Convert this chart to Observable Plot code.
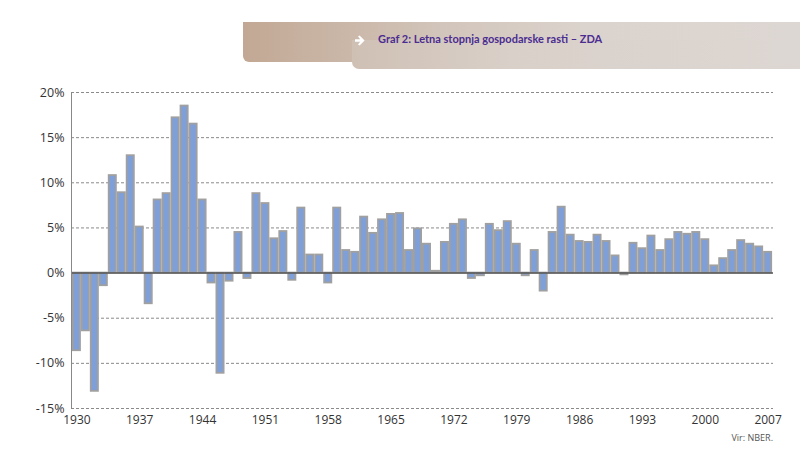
<!DOCTYPE html>
<html>
<head>
<meta charset="utf-8">
<script src="https://cdn.jsdelivr.net/npm/d3@7"></script>
<script src="https://cdn.jsdelivr.net/npm/@observablehq/plot@0.6"></script>
<style>
  html, body { margin: 0; padding: 0; background: #fff; }
  #wrap { position: relative; width: 800px; height: 456px; overflow: hidden; font-family: "Open Sans", sans-serif; }
  #chart { position: absolute; left: 0; top: 0; }
  .band1 { position: absolute; left: 243px; top: 22px; width: 570px; height: 40px; border-radius: 0 0 0 6px;
           background: linear-gradient(to right, #c2a894 0%, #d2c5bb 35%, #dbd3cd 60%, #ddd7d3 100%); }
  .band2 { position: absolute; left: 352px; top: 40px; width: 460px; height: 29px; border-radius: 0 0 0 7px;
           background: linear-gradient(to right, #cfc0b4 0%, #d9d0c9 35%, #ddd7d3 100%); }
  .arrow { position: absolute; left: 354px; top: 35px; }
  .title { position: absolute; left: 378px; top: 32px; color: #4b2c91; font-size: 11px; font-weight: 700; font-family: Lato, sans-serif; white-space: nowrap; }
  .source { position: absolute; right: 27px; top: 431px; color: #555; font-size: 9px; }
</style>
</head>
<body>
<div id="wrap">
  <div class="band1"></div>
  <div class="band2"></div>
  <svg class="arrow" width="12" height="11" viewBox="0 0 12 11">
    <path d="M1 4.2 H6.2 L4 1.6 L5.6 0.4 L10.6 5.5 L5.6 10.6 L4 9.4 L6.2 6.8 H1 Z" fill="#fff"/>
  </svg>
  <div class="title">Graf 2: Letna stopnja gospodarske rasti – ZDA</div>
  <div id="chart"></div>
  <div class="source">Vir: NBER.</div>
</div>
<script>
const years = d3.range(1930, 2008);
const growth = [
  -8.6, -6.4, -13.1, -1.4, 10.8, 8.9, 13.0, 5.1, -3.4, 8.1,
  8.8, 17.2, 18.5, 16.5, 8.1, -1.1, -11.1, -0.9, 4.5, -0.6,
  8.8, 7.7, 3.8, 4.6, -0.8, 7.2, 2.0, 2.0, -1.1, 7.2,
  2.5, 2.3, 6.2, 4.4, 5.9, 6.5, 6.6, 2.5, 4.9, 3.2,
  0.2, 3.4, 5.4, 5.9, -0.6, -0.3, 5.4, 4.7, 5.7, 3.2,
  -0.3, 2.5, -2.0, 4.5, 7.3, 4.2, 3.5, 3.4, 4.2, 3.5,
  1.9, -0.2, 3.3, 2.7, 4.1, 2.5, 3.7, 4.5, 4.3, 4.5,
  3.7, 0.8, 1.6, 2.5, 3.6, 3.2, 2.9, 2.3
];
const xTickLabels = [1930, 1937, 1944, 1951, 1958, 1965, 1972, 1979, 1986, 1993, 2000, 2007];
const yTicks = [-15, -10, -5, 0, 5, 10, 15, 20];

const data = years.map((year, i) => ({year, value: growth[i]}));

const chart = Plot.plot({
  width: 800,
  height: 456,
  marginTop: 92,
  marginBottom: 48,
  marginLeft: 71,
  marginRight: 27,
  style: { fontFamily: "Open Sans, sans-serif", background: "transparent", color: "#333" },
  x: { type: "band", domain: years, padding: 0.2, align: 0.5 },
  y: { domain: [-15, 20] },
  marks: [
    Plot.gridY(yTicks.filter(d => d !== 0), { stroke: "#8a8a8a", strokeOpacity: 1, strokeDasharray: "3,2", strokeWidth: 1 }),
    Plot.barY(data, { x: "year", y: "value", fill: "#7f9fd9", stroke: "#a0a0a0", strokeWidth: 1.8 }),
    Plot.ruleY([0], { stroke: "#555", strokeWidth: 1.5 }),
    Plot.frame({ anchor: "left", stroke: "#888", strokeWidth: 1 }),
    Plot.axisY({ ticks: yTicks, tickFormat: d => d + "%", tickSize: 0, tickPadding: 7, fontSize: 12.5, label: null }),
    Plot.axisX({ ticks: xTickLabels, tickFormat: d => String(d), tickSize: 0, tickPadding: 7, fontSize: 12, label: null })
  ]
});
document.getElementById("chart").appendChild(chart);
</script>
</body>
</html>
